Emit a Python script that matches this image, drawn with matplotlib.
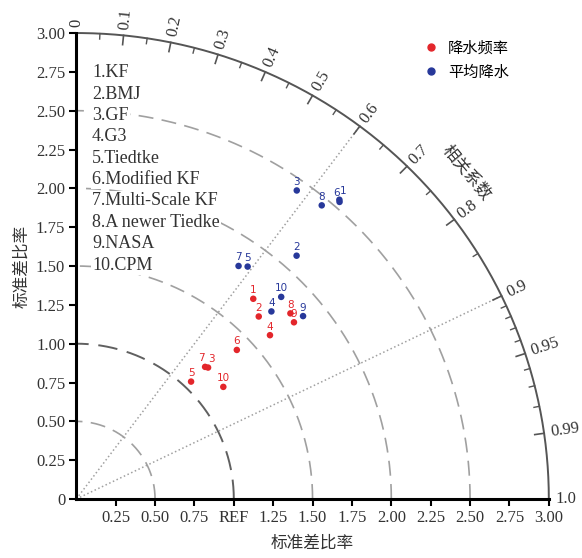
import numpy as np
import matplotlib.pyplot as plt
from matplotlib.lines import Line2D

plt.rcParams['font.family'] = ['Liberation Serif', 'Noto Sans CJK SC']

models = ["1.KF", "2.BMJ", "3.GF", "4.G3", "5.Tiedtke", "6.Modified KF",
          "7.Multi-Scale KF", "8.A newer Tiedke", "9.NASA", "10.CPM"]
ids = ["1", "2", "3", "4", "5", "6", "7", "8", "9", "10"]

# 降水频率 (red)
freq_std = [1.71, 1.65, 1.19, 1.62, 1.05, 1.40, 1.18, 1.81, 1.79, 1.18]
freq_cor = [0.657, 0.702, 0.703, 0.759, 0.694, 0.728, 0.693, 0.751, 0.772, 0.791]
# 平均降水 (blue)
mean_std = [2.55, 2.10, 2.43, 1.73, 1.85, 2.54, 1.82, 2.45, 1.86, 1.84]
mean_cor = [0.655, 0.666, 0.576, 0.716, 0.588, 0.658, 0.566, 0.636, 0.774, 0.707]

xticks = [0.25, 0.5, 0.75, 1.0, 1.25, 1.5, 1.75, 2.0, 2.25, 2.5, 2.75, 3.0]
xticklabels = ["0.25", "0.50", "0.75", "REF", "1.25", "1.50", "1.75", "2.00",
               "2.25", "2.50", "2.75", "3.00"]
yticks = [0, 0.25, 0.5, 0.75, 1.0, 1.25, 1.5, 1.75, 2.0, 2.25, 2.5, 2.75, 3.0]
yticklabels = ["0", "0.25", "0.50", "0.75", "1.00", "1.25", "1.50", "1.75",
               "2.00", "2.25", "2.50", "2.75", "3.00"]
cor_major = [0, 0.1, 0.2, 0.3, 0.4, 0.5, 0.6, 0.7, 0.8, 0.9, 0.95, 0.99, 1.0]
cor_labels = ["0", "0.1", "0.2", "0.3", "0.4", "0.5", "0.6", "0.7", "0.8",
              "0.9", "0.95", "0.99", "1.0"]
cor_minor = [0.05, 0.15, 0.25, 0.35, 0.45, 0.55, 0.65, 0.75, 0.85,
             0.91, 0.92, 0.93, 0.94, 0.96, 0.97, 0.98]

# small sideways nudges (points) for labels of points that sit on top of each other
freq_nudge = [0, 0, 2.5, 0, 0, 0, -2.5, 0, 0, 0]
mean_nudge = [2.5, 0, 0, 0, 0, -2.5, 0, 0, 0, 0]

RED = "#e3262b"
BLUE = "#27389a"
RMAX = 3.0

fig = plt.figure(figsize=(5.82, 5.58), dpi=100)
ax = fig.add_axes([0.1311, 0.1057, 0.8119, 0.8351])
ax.set_xlim(0, RMAX)
ax.set_ylim(0, RMAX)
for s in ["top", "right"]:
    ax.spines[s].set_visible(False)
for s in ["left", "bottom"]:
    ax.spines[s].set_linewidth(2.2)

ax.set_xticks(xticks)
ax.set_xticklabels(xticklabels)
ax.set_yticks(yticks)
ax.set_yticklabels(yticklabels)
ax.tick_params(direction="out", length=5, width=1.5, labelsize=12, pad=3,
               labelcolor="#333333")

t = np.linspace(0, np.pi / 2, 400)
# outer arc
ax.plot(RMAX * np.cos(t), RMAX * np.sin(t), color="#555555", lw=1.4, clip_on=False)
# std circles
for r in [0.5, 1.5, 2.0, 2.5]:
    ax.plot(r * np.cos(t), r * np.sin(t), color="#a0a0a0", lw=1.2,
            dashes=(9, 5), zorder=1)
ax.plot(np.cos(t), np.sin(t), color="#606060", lw=1.4, dashes=(10, 5), zorder=1)

# correlation lines
for c in [0.6, 0.9]:
    a = np.arccos(c)
    ax.plot([0, RMAX * np.cos(a)], [0, RMAX * np.sin(a)], color="#a0a0a0",
            lw=1.1, ls=":", zorder=1)

# correlation ticks and labels
for c, lab in zip(cor_major, cor_labels):
    a = np.arccos(c)
    ax.plot([2.94 * np.cos(a), RMAX * np.cos(a)], [2.94 * np.sin(a), RMAX * np.sin(a)],
            color="#555555", lw=1.2, clip_on=False)
    ax.text(3.04 * np.cos(a), 3.04 * np.sin(a), lab, rotation=np.degrees(a),
            rotation_mode="anchor", ha="left", va="center", fontsize=12,
            color="#333333")
for c in cor_minor:
    a = np.arccos(c)
    ax.plot([2.965 * np.cos(a), RMAX * np.cos(a)], [2.965 * np.sin(a), RMAX * np.sin(a)],
            color="#555555", lw=1.0, clip_on=False)

ax.text(2.48, 2.10, "相关系数", rotation=-50, ha="center", va="center",
        fontsize=12, color="#333333", family=["Noto Sans CJK SC"])


def draw(std, cor, nudge, color):
    std = np.array(std)
    cor = np.array(cor)
    a = np.arccos(cor)
    x = std * np.cos(a)
    y = std * np.sin(a)
    ax.scatter(x, y, s=22, color=color, zorder=5, edgecolors="none")
    for xi, yi, k, dx in zip(x, y, ids, nudge):
        ax.annotate(k, (xi, yi), xytext=(dx, 2.5), textcoords="offset points",
                    ha="center", va="bottom", fontsize=7.5, color=color, zorder=5,
                    family=["DejaVu Sans"])


draw(freq_std, freq_cor, freq_nudge, RED)
draw(mean_std, mean_cor, mean_nudge, BLUE)

# model list
for i, m in enumerate(models):
    ax.text(0.10, 2.745 - i * 0.1376, m, ha="left", va="center", fontsize=13,
            color="#333333",
            bbox=dict(facecolor="white", edgecolor="none", pad=1), zorder=3)

handles = [Line2D([], [], marker="o", ls="none", color=RED, markersize=5),
           Line2D([], [], marker="o", ls="none", color=BLUE, markersize=5)]
ax.legend(handles, ["降水频率", "平均降水"], loc="upper left",
          bbox_to_anchor=(0.69, 1.015), frameon=False, handletextpad=0.1,
          labelspacing=0.45, prop={"family": "Noto Sans CJK SC", "size": 11})

ax.set_xlabel("标准差比率", fontsize=12, family=["Noto Sans CJK SC"], labelpad=6,
              color="#333333")
ax.set_ylabel("标准差比率", fontsize=12, family=["Noto Sans CJK SC"], labelpad=4,
              color="#333333")

fig.savefig("out.png", dpi=100)
